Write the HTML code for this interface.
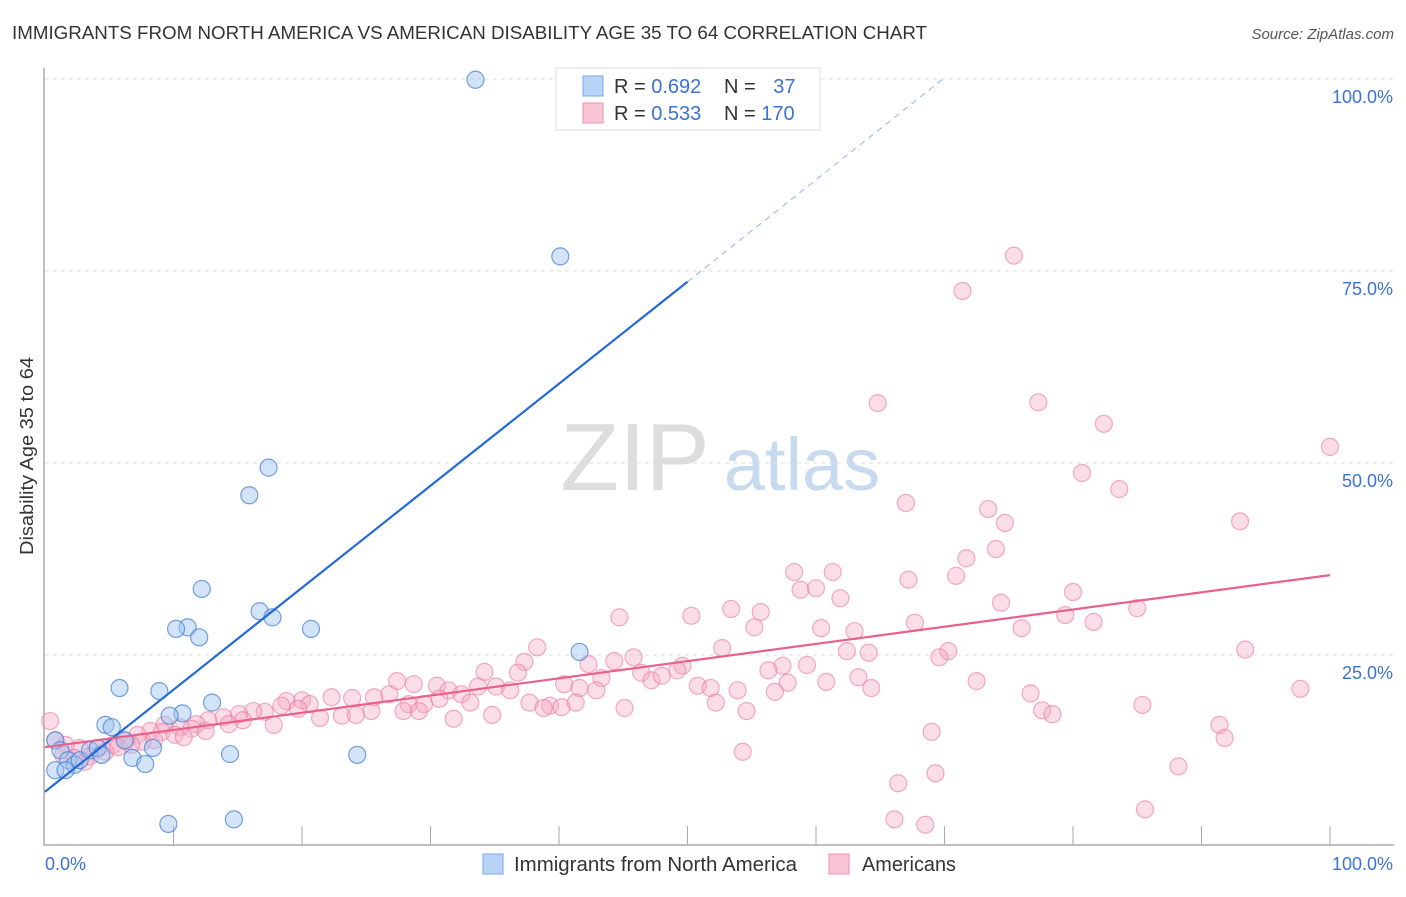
<!DOCTYPE html>
<html><head><meta charset="utf-8"><style>
body{margin:0;background:#fff;font-family:"Liberation Sans",sans-serif}
svg text{font-family:"Liberation Sans",sans-serif}
</style></head><body>
<svg id="chart" width="1406" height="892" xmlns="http://www.w3.org/2000/svg">
<text x="12" y="39" font-size="18" fill="#333" textLength="915" lengthAdjust="spacingAndGlyphs">IMMIGRANTS FROM NORTH AMERICA VS AMERICAN DISABILITY AGE 35 TO 64 CORRELATION CHART</text>
<text x="1394" y="39" font-size="15" fill="#555" font-style="italic" text-anchor="end">Source: ZipAtlas.com</text>
<text x="33" y="456" font-size="18" fill="#333" text-anchor="middle" textLength="198" lengthAdjust="spacingAndGlyphs" transform="rotate(-90 33 456)">Disability Age 35 to 64</text>
<g><text x="635" y="490" font-size="96" font-family="Liberation Serif" fill="#ddd" text-anchor="middle">ZIP</text><text x="802" y="490" font-size="74" fill="#c8daf0" text-anchor="middle">atlas</text></g>
<g id="grid"></g><g id="axes"></g><g id="pts"></g><g id="lines"></g>
<g>
<rect x="556" y="68" width="264" height="62" fill="#fff" stroke="#ddd"/>
<rect x="583" y="76" width="20" height="20" fill="#b8d3f5" stroke="#7aa8e6"/>
<rect x="583" y="103" width="20" height="20" fill="#f9c4d4" stroke="#ee8fac"/>
<text x="614" y="93" font-size="20" fill="#333">R = <tspan fill="#3a72d6">0.692</tspan></text>
<text x="724" y="93" font-size="20" fill="#333">N = <tspan fill="#3a72d6" dx="12">37</tspan></text>
<text x="614" y="120" font-size="20" fill="#333">R = <tspan fill="#3a72d6">0.533</tspan></text>
<text x="724" y="120" font-size="20" fill="#333">N = <tspan fill="#3a72d6">170</tspan></text>
</g>
<g>
<rect x="483" y="854" width="20" height="20" fill="#b8d3f5" stroke="#7aa8e6"/>
<text x="514" y="871" font-size="20" fill="#333" textLength="283" lengthAdjust="spacingAndGlyphs">Immigrants from North America</text>
<rect x="829" y="854" width="20" height="20" fill="#f9c4d4" stroke="#ee8fac"/>
<text x="862" y="871" font-size="20" fill="#333" textLength="94" lengthAdjust="spacingAndGlyphs">Americans</text>
</g>
</svg>
<script>
const yTicks=[25,50,75,100];
const yTickLabels=["25.0%","50.0%","75.0%","100.0%"];
const blueX=[33.5,40.1,17.4,15.9,12.2,16.7,17.7,11.1,10.2,12.0,20.7,41.6,5.8,8.9,13.0,10.7,9.7,4.7,5.2,8.4,14.4,24.3,6.8,7.8,0.8,1.2,1.8,2.3,2.7,3.5,4.1,4.4,0.8,1.6,9.6,14.7,6.2];
const blueY=[99.9,76.9,49.4,45.8,33.6,30.7,29.9,28.6,28.4,27.3,28.4,25.4,20.7,20.3,18.8,17.4,17.1,15.9,15.6,12.9,12.1,12.0,11.6,10.8,13.9,12.6,11.3,10.7,11.3,12.6,12.9,12.0,10.0,10.0,3.0,3.6,13.9];
const pinkX=[75.4,71.4,64.8,77.3,82.4,100,80.7,83.6,67,73.4,74.7,93,71.7,74,58.3,61.3,70.9,67.2,58.8,60,80,61.9,53.4,55.7,74.4,85,44.7,50.3,79.4,67.7,81.6,55.2,60.4,63,76,38.3,52.7,62.4,64.1,70.3,69.6,93.4,37.3,42.3,44.3,45.8,59.3,49.6,57.4,56.3,49.2,34.2,36.8,43.3,46.4,47.2,48,72.5,63.3,60.8,57.8,27.4,28.7,33.7,35.1,36.2,30.5,40.4,41.6,42.9,50.8,51.8,53.9,56.8,64.3,76.7,97.7,31.4,32.4,26.8,25.6,23.9,22.3,20,18.8,20.6,28.3,29.5,30.7,37.7,39.3,40.2,41.3,33.1,52.2,85.4,19.7,18.4,17.1,16.2,15.1,25.4,23.1,24.2,27.9,29.1,38.8,45.1,54.6,77.6,78.4,13.9,12.7,21.4,31.8,34.8,15.4,14.3,17.8,11.8,10.5,9.3,0.4,91.4,8.2,9.1,11.4,12.5,7.2,10.1,69,91.8,6.3,7.6,10.8,5.3,4.1,2.7,1.6,0.8,1.4,3.5,4.7,5.7,6.7,8.5,54.3,88.2,69.3,66.4,85.6,66.1,68.5,2.3,3.1];
const pinkY=[77,72.4,57.8,57.9,55.1,52.1,48.7,46.6,44.8,44,42.2,42.4,37.6,38.8,35.8,35.8,35.3,34.8,33.5,33.7,33.2,32.4,31,30.6,31.8,31.1,29.9,30.1,30.2,29.2,29.3,28.6,28.5,28.1,28.5,26,25.9,25.5,25.3,25.5,24.7,25.7,24.1,23.8,24.2,24.7,23.7,23.6,23.6,23,23,22.8,22.7,22,22.7,21.7,22.3,21.6,22.1,21.5,21.4,21.6,21.2,20.9,20.9,20.4,21,21.2,20.7,20.4,21,20.7,20.4,20.2,20.7,20,20.6,20.4,19.9,19.9,19.5,19.4,19.5,19.1,19,18.6,18.6,18.6,19.3,18.8,18.4,18.2,18.8,18.8,18.8,18.5,18,18.4,17.6,17.7,17.3,17.7,17.1,17.2,17.7,17.7,18.1,18.1,17.7,17.8,17.3,16.9,16.5,16.8,16.7,17.2,16.5,16,15.9,16,15.6,15.9,16.4,15.9,15.1,15,15.4,15.1,14.6,14.6,15,14.2,13.8,13.7,14.3,13.3,12.8,12.9,13.3,13.9,12,11.8,12.4,13,13.3,13.9,12.4,10.5,9.6,8.3,4.9,3.6,2.9,11.6,11.1];
const blueTrend=[0,7.2,50,73.6];
const pinkTrend=[0,13,100,35.4];
const NS="http://www.w3.org/2000/svg";
const X0=45,X1=1330,Y0=847,Y100=79;
const sx=v=>X0+(X1-X0)*v/100;
const sy=v=>Y0-(Y0-Y100)*v/100;
function mk(tag,attrs,parent){const e=document.createElementNS(NS,tag);for(const k in attrs)e.setAttribute(k,attrs[k]);document.getElementById(parent).appendChild(e);return e;}
yTicks.forEach((t,i)=>{
  const g=mk('line',{x1:45,x2:1394,y1:sy(t),y2:sy(t),stroke:'#ddd','stroke-dasharray':'4,4'},'grid');
  
  
  const l=mk('text',{x:1393,y:sy(t)+24,'font-size':18,fill:'#3a72d6','text-anchor':'end'},'grid');
  l.textContent=yTickLabels[i];
  
  
});
const ax=mk('path',{d:'M44,68V845H1394',fill:'none',stroke:'#aaa','stroke-width':1.5},'axes');


for(let i=1;i<=10;i++){const t=mk('line',{x1:sx(i*10),x2:sx(i*10),y1:826,y2:845,stroke:'#aaa'},'axes');

}
const xl=mk('text',{x:45,y:870,'font-size':18,fill:'#3a72d6'},'axes');xl.textContent='0.0%';


const xr=mk('text',{x:1393,y:870,'font-size':18,fill:'#3a72d6','text-anchor':'end'},'axes');xr.textContent='100.0%';


pinkX.forEach((v,i)=>{const c=mk('circle',{cx:sx(v),cy:sy(pinkY[i]),r:8.5,fill:'rgba(246,170,195,0.4)',stroke:'rgba(234,120,155,0.6)','stroke-width':1.2},'pts');

});
blueX.forEach((v,i)=>{const c=mk('circle',{cx:sx(v),cy:sy(blueY[i]),r:8.5,fill:'rgba(160,196,240,0.45)',stroke:'rgba(70,130,215,0.75)','stroke-width':1.2},'pts');

});
const bs=(blueTrend[3]-blueTrend[1])/(blueTrend[2]-blueTrend[0]);
const by=x=>blueTrend[1]+bs*(x-blueTrend[0]);
const xEnd=(100-blueTrend[1])/bs;
const b1=mk('line',{x1:sx(blueTrend[0]),y1:sy(by(blueTrend[0])),x2:sx(blueTrend[2]),y2:sy(by(blueTrend[2])),stroke:'#2469d6','stroke-width':2.2},'lines');


const b2=mk('line',{x1:sx(blueTrend[2]),y1:sy(by(blueTrend[2])),x2:sx(xEnd),y2:sy(by(xEnd)),stroke:'#8fb2e6','stroke-width':1,'stroke-dasharray':'6,5'},'lines');


const p1=mk('line',{x1:sx(pinkTrend[0]),y1:sy(pinkTrend[1]),x2:sx(pinkTrend[2]),y2:sy(pinkTrend[3]),stroke:'#e8618c','stroke-width':2.2},'lines');


</script>
</body></html>
